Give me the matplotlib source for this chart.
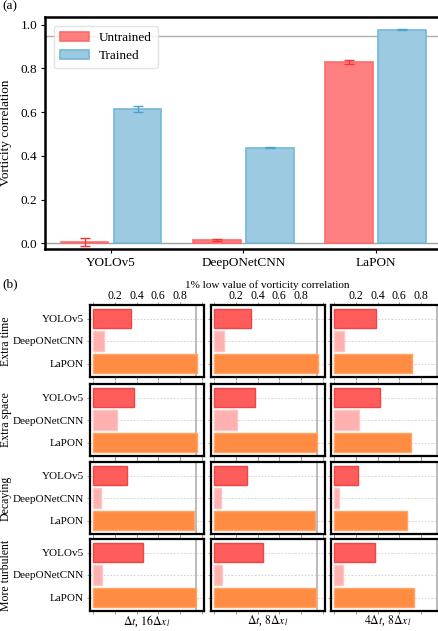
import numpy as np
import matplotlib
matplotlib.use("Agg")
import matplotlib.pyplot as plt

plt.rcParams['font.family'] = ['Liberation Serif', 'DejaVu Serif']
plt.rcParams['mathtext.fontset'] = 'stix'

models = ['YOLOv5', 'DeepONetCNN', 'LaPON']

# (a) mean vorticity correlation
untrained = [0.005, 0.015, 0.830]
untrained_err = [0.018, 0.004, 0.008]
trained = [0.615, 0.437, 0.977]
trained_err = [0.014, 0.003, 0.003]

# (b) 1% low value, rows = test cases, cols = resolutions
cases = ['Extra time', 'Extra space', 'Decaying', 'More turbulent']
resolutions = [r'$\Delta t$, $16\Delta x_l$', r'$\Delta t$, $8\Delta x_l$',
               r'$4\Delta t$, $8\Delta x_l$']
low_yolo = [[0.345, 0.339, 0.385],
            [0.380, 0.376, 0.422],
            [0.310, 0.300, 0.216],
            [0.460, 0.452, 0.373]]
low_deeponet = [[0.100, 0.090, 0.090],
                [0.220, 0.210, 0.230],
                [0.070, 0.062, 0.043],
                [0.080, 0.074, 0.083]]
low_lapon = [[0.955, 0.955, 0.717],
             [0.955, 0.945, 0.705],
             [0.930, 0.930, 0.668],
             [0.948, 0.940, 0.739]]

W, H = 439, 631
fig = plt.figure(figsize=(W / 100, H / 100), dpi=100)


def px_axes(left, top, right, bottom):
    return fig.add_axes([left / W, 1 - bottom / H, (right - left) / W, (bottom - top) / H])


# ---- (a) ----
ax = px_axes(45, 17, 441.75, 249)
x = np.arange(len(models))
ax.bar(x - 0.2, untrained, 0.36, color='#ff8080', edgecolor='#ff6b6b', linewidth=1.2,
       label='Untrained', zorder=3)
ax.bar(x + 0.2, trained, 0.36, color='#9ccae1', edgecolor='#74b8d8', linewidth=1.2,
       label='Trained', zorder=3)
ax.errorbar(x - 0.2, untrained, yerr=untrained_err, fmt='none', ecolor='#ff3030',
            elinewidth=1, capsize=3.5, zorder=4)
ax.errorbar(x + 0.2, trained, yerr=trained_err, fmt='none', ecolor='#4aa3cc',
            elinewidth=1, capsize=3.5, zorder=4)
ax.axhline(0.95, color='#b0b0b0', lw=1, zorder=1)
ax.axhline(0.0, color='#a0a0a0', lw=1, zorder=2)
ax.set_xlim(-0.5, 2.5)
ax.set_ylim(-0.026, 1.035)
ax.set_xticks(x)
ax.set_xticklabels(models, fontsize=9.5)
ax.set_yticks(np.arange(0, 1.01, 0.2))
ax.set_yticklabels([f'{v:.1f}' for v in np.arange(0, 1.01, 0.2)], fontsize=9.5)
ax.set_ylabel('Vorticity correlation', fontsize=9.5)
ax.yaxis.set_label_coords(-33 / 397, 0.5)
ax.spines['right'].set_visible(False)
for s in ['left', 'top', 'bottom']:
    ax.spines[s].set_linewidth(1.8)
ax.tick_params(length=3, width=0.8, pad=2.5)
ax.legend(loc='upper left', fontsize=9.5, frameon=True, handlelength=2.2,
          borderpad=0.45, labelspacing=0.45, framealpha=0.8, edgecolor='#dddddd',
          fancybox=True, bbox_to_anchor=(0.005, 0.99))
fig.text(2 / W, 1 - 6 / H, '(a)', fontsize=9.5, va='center', ha='left')

# ---- (b) ----
fig.text(2 / W, 1 - 284 / H, '(b)', fontsize=9.5, va='center', ha='left')
col_left = [90, 211, 331]
row_top = [305, 384, 462, 539]
yy = np.arange(3)
for i, case in enumerate(cases):
    for j in range(3):
        a = px_axes(col_left[j], row_top[i], col_left[j] + 114, row_top[i] + 72)
        vals = [low_yolo[i][j], low_deeponet[i][j], low_lapon[i][j]]
        a.barh(yy, vals, 0.85, color=['#ff5c5c', '#ffb0b0', '#ff8c42'],
               edgecolor=['#f04545', '#ffc6c6', '#ffa566'], linewidth=1, zorder=3)
        a.axvline(0.95, color='#b0b0b0', lw=1.2, zorder=2)
        a.set_ylim(2.6, -0.6)
        a.set_xlim(-0.03, 1.022)
        a.set_yticks(yy)
        a.yaxis.grid(True, ls=(0, (2, 2)), color='#cccccc', lw=0.6, zorder=0)
        a.set_xticks(np.arange(0, 1.01, 0.2))
        a.tick_params(axis='x', top=True, bottom=True, direction='out', length=2,
                      width=0.6, color='#888888', labelsize=8.5, pad=0,
                      labeltop=(i == 0), labelbottom=False)
        if i == 0:
            a.set_xticklabels(['', '0.2', '0.4', '0.6', '0.8', ''])
        a.tick_params(axis='y', direction='out', length=2.5, width=0.6,
                      color='#888888', labelsize=8, pad=2)
        if j == 0:
            a.set_yticklabels(models)
            a.set_ylabel(case, fontsize=8.5)
            a.yaxis.set_label_coords(-78 / 114, 0.5)
        else:
            a.set_yticklabels([])
        if i == 3:
            a.set_xlabel(resolutions[j], fontsize=8.5)
            a.xaxis.set_label_coords(0.5, -0.03)
        for s in a.spines.values():
            s.set_linewidth(1.6)
fig.text(267 / W, 1 - 285 / H, '1% low value of vorticity correlation', fontsize=8,
         ha='center', va='center')

fig.savefig('out.png', dpi=100)
